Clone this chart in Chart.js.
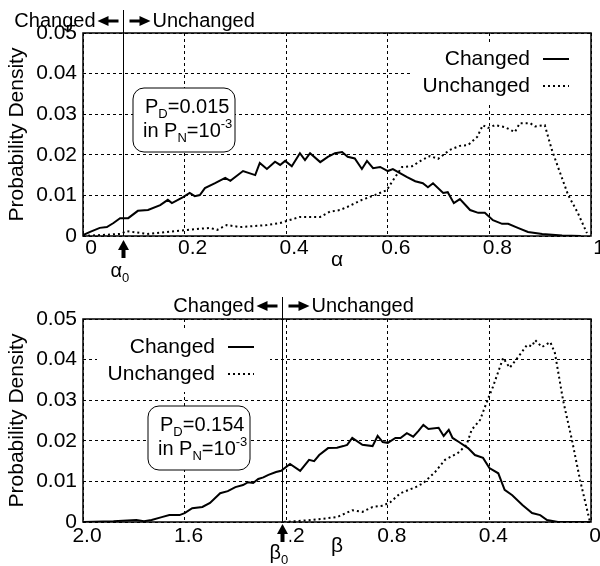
<!DOCTYPE html>
<html>
<head>
<meta charset="utf-8">
<script src="https://cdn.jsdelivr.net/npm/chart.js@4"></script>
<style>
body { margin: 0; background: #fff; width: 600px; height: 566px; position: relative; overflow: hidden; }
canvas { position: absolute; left: 0; }
#top { top: 0; }
#bot { top: 283px; }
</style>
</head>
<body>
<canvas id="top" width="600" height="283"></canvas>
<canvas id="bot" width="600" height="283"></canvas>
<script>
const FONT = '"Liberation Sans", Arial, Helvetica, sans-serif'

// top panel: alpha
const alphaChanged = [0, 0.014, 0.033, 0.047, 0.06, 0.073, 0.089, 0.108, 0.128, 0.152, 0.167, 0.175, 0.197, 0.21, 0.22, 0.23, 0.24, 0.26, 0.28, 0.29, 0.315, 0.339, 0.348, 0.362, 0.378, 0.388, 0.398, 0.411, 0.427, 0.437, 0.447, 0.467, 0.482, 0.496, 0.51, 0.521, 0.535, 0.549, 0.559, 0.571, 0.585, 0.6, 0.61, 0.624, 0.638, 0.654, 0.669, 0.679, 0.689, 0.709, 0.718, 0.73, 0.742, 0.762, 0.778, 0.791, 0.807, 0.825, 0.837, 0.856, 0.876, 0.904, 0.943, 0.98]
const densChangedA = [0.0002, 0.001, 0.002, 0.0022, 0.0032, 0.0044, 0.0044, 0.0062, 0.0064, 0.0076, 0.0089, 0.0081, 0.0096, 0.0106, 0.0098, 0.0101, 0.0118, 0.013, 0.0143, 0.0136, 0.016, 0.015, 0.018, 0.0165, 0.0183, 0.0175, 0.0185, 0.0172, 0.0204, 0.0187, 0.0204, 0.0182, 0.0195, 0.0204, 0.0207, 0.0195, 0.0191, 0.0165, 0.0185, 0.0167, 0.017, 0.016, 0.0165, 0.0155, 0.0145, 0.0135, 0.013, 0.012, 0.013, 0.0106, 0.0108, 0.0081, 0.0091, 0.0064, 0.0057, 0.0057, 0.0039, 0.003, 0.003, 0.002, 0.001, 0.0005, 0.0001, 0]
const alphaUnchanged = [0, 0.073, 0.087, 0.126, 0.165, 0.205, 0.25, 0.264, 0.283, 0.309, 0.362, 0.388, 0.427, 0.467, 0.486, 0.506, 0.521, 0.549, 0.575, 0.598, 0.608, 0.628, 0.648, 0.667, 0.683, 0.699, 0.722, 0.742, 0.758, 0.776, 0.787, 0.797, 0.811, 0.831, 0.85, 0.86, 0.88, 0.89, 0.909, 0.923, 0.935, 0.955, 0.974, 0.992]
const densUnchangedA = [0, 0.0005, 0.0012, 0.0005, 0.001, 0.0015, 0.002, 0.0015, 0.0027, 0.0022, 0.0027, 0.0032, 0.0047, 0.0047, 0.006, 0.0064, 0.0072, 0.0089, 0.0101, 0.0113, 0.0133, 0.017, 0.0172, 0.0187, 0.0197, 0.019, 0.0212, 0.0222, 0.0224, 0.0244, 0.0273, 0.0266, 0.0273, 0.0268, 0.0256, 0.0278, 0.0278, 0.027, 0.0273, 0.0212, 0.017, 0.0101, 0.0057, 0.0007]

// bottom panel: beta
const betaChanged = [2.0, 1.88, 1.79, 1.76, 1.73, 1.69, 1.66, 1.62, 1.6, 1.57, 1.53, 1.5, 1.46, 1.43, 1.4, 1.37, 1.35, 1.33, 1.31, 1.29, 1.27, 1.24, 1.22, 1.185, 1.145, 1.11, 1.09, 1.07, 1.035, 1.0, 0.975, 0.96, 0.94, 0.9, 0.86, 0.84, 0.82, 0.8, 0.77, 0.75, 0.725, 0.7, 0.68, 0.66, 0.64, 0.6, 0.58, 0.56, 0.545, 0.52, 0.484, 0.457, 0.425, 0.4, 0.365, 0.34, 0.31, 0.27, 0.232, 0.2, 0.173, 0.13, 0]
const densChangedB = [0, 0.0002, 0.0005, 0.0002, 0.0005, 0.0012, 0.0017, 0.0017, 0.0022, 0.0034, 0.0037, 0.0047, 0.0071, 0.0076, 0.0086, 0.0091, 0.0098, 0.0096, 0.0106, 0.011, 0.0116, 0.0123, 0.0126, 0.0143, 0.0126, 0.0153, 0.015, 0.0165, 0.0182, 0.0183, 0.0187, 0.019, 0.0207, 0.019, 0.0187, 0.0212, 0.0197, 0.0195, 0.0207, 0.0207, 0.0219, 0.021, 0.0224, 0.0239, 0.0229, 0.0232, 0.0212, 0.0227, 0.0207, 0.0197, 0.0182, 0.0165, 0.0158, 0.0133, 0.012, 0.0079, 0.0066, 0.0042, 0.0022, 0.0017, 0.0005, 0, 0]
const betaUnchanged = [1.21, 1.1, 1.0, 0.94, 0.9, 0.86, 0.82, 0.79, 0.75, 0.69, 0.66, 0.614, 0.575, 0.524, 0.49, 0.47, 0.437, 0.41, 0.386, 0.346, 0.32, 0.287, 0.252, 0.232, 0.22, 0.193, 0.16, 0.142, 0.11, 0.075, 0.043, 0.004]
const densUnchangedB = [0, 0.0005, 0.0012, 0.0029, 0.0025, 0.0037, 0.004, 0.0049, 0.0071, 0.0086, 0.0096, 0.0123, 0.0153, 0.017, 0.019, 0.0227, 0.0251, 0.0296, 0.0333, 0.0404, 0.038, 0.0406, 0.0436, 0.0433, 0.0448, 0.0431, 0.0443, 0.0416, 0.03, 0.0202, 0.0103, 0]

const alpha0 = 0.079
const beta0 = 1.217
const yTicks = [0, 0.01, 0.02, 0.03, 0.04, 0.05]

const pairs = (xs, ys) => xs.map((v, i) => ({ x: v, y: ys[i] }))

function arrowLeft(ctx, tip, y) {
    ctx.beginPath()
    ctx.moveTo(tip, y)
    ctx.lineTo(tip + 11, y - 5)
    ctx.lineTo(tip + 11, y + 5)
    ctx.closePath()
    ctx.fill()
    ctx.fillRect(tip + 10, y - 1.5, 11, 3)
}
function arrowRight(ctx, start, y) {
    ctx.fillRect(start, y - 1.5, 11, 3)
    ctx.beginPath()
    ctx.moveTo(start + 21, y)
    ctx.lineTo(start + 10, y - 5)
    ctx.lineTo(start + 10, y + 5)
    ctx.closePath()
    ctx.fill()
}
function arrowUp(ctx, x, tip, len) {
    ctx.beginPath()
    ctx.moveTo(x, tip)
    ctx.lineTo(x - 5.5, tip + 10)
    ctx.lineTo(x + 5.5, tip + 10)
    ctx.closePath()
    ctx.fill()
    ctx.fillRect(x - 2, tip + 9, 4, len - 9)
}
function rich(ctx, x, y, parts) {
    ctx.textAlign = 'left'
    for (const [t, m] of parts) {
        ctx.font = (m ? 13 : 20) + 'px ' + FONT
        const dy = m === 'sub' ? 5 : m === 'sup' ? -9 : 0
        ctx.fillText(t, x, y + dy)
        x += ctx.measureText(t).width
    }
}
function roundBox(ctx, x, y, w, h, r) {
    ctx.beginPath()
    ctx.roundRect(x, y, w, h, r)
    ctx.fillStyle = '#fff'
    ctx.fill()
    ctx.strokeStyle = '#000'
    ctx.lineWidth = 1
    ctx.stroke()
}

const decor = {
    id: 'decor',
    afterDatasetsDraw(chart, args, o) {
        const { ctx, chartArea: a, scales: { x } } = chart
        ctx.save()
        ctx.fillStyle = '#000'
        ctx.strokeStyle = '#000'

        // legend
        const L = o.legend
        ctx.fillStyle = '#fff'
        ctx.fillRect(L.x0, L.y0, L.x1 - L.x0, L.y1 - L.y0)
        ctx.fillStyle = '#000'
        ctx.font = '21px ' + FONT
        ctx.textAlign = 'right'
        ctx.fillText('Changed', L.tx, L.y)
        ctx.fillText('Unchanged', L.tx, L.y + 27)
        ctx.lineWidth = 2
        ctx.beginPath()
        ctx.moveTo(L.tx + 13, L.y - 6)
        ctx.lineTo(L.tx + 39, L.y - 6)
        ctx.stroke()
        ctx.setLineDash([2, 3])
        ctx.beginPath()
        ctx.moveTo(L.tx + 13, L.y + 21)
        ctx.lineTo(L.tx + 39, L.y + 21)
        ctx.stroke()
        ctx.setLineDash([])

        // detection box
        const B = o.box
        roundBox(ctx, B.x, B.y, 102, 64, 11)
        ctx.fillStyle = '#000'
        rich(ctx, B.x + 12, B.y + 25, [['P'], ['D', 'sub'], ['=' + o.pd]])
        rich(ctx, B.x + 10, B.y + 49, [['in P'], ['N', 'sub'], ['=10'], ['-3', 'sup']])

        // frame
        ctx.lineWidth = 1.5
        ctx.strokeRect(a.left, a.top, a.right - a.left, a.bottom - a.top)

        // threshold line
        const tx = Math.round(x.getPixelForValue(o.thr)) + 0.5
        ctx.lineWidth = 1
        ctx.beginPath()
        ctx.moveTo(tx, o.lineTop)
        ctx.lineTo(tx, a.bottom)
        ctx.stroke()

        // header
        ctx.font = '20px ' + FONT
        ctx.textAlign = 'right'
        ctx.fillText('Changed', tx - 28, o.headY)
        arrowLeft(ctx, tx - 26, o.headY - 6)
        arrowRight(ctx, tx + 6, o.headY - 6)
        ctx.textAlign = 'left'
        ctx.fillText('Unchanged', tx + 29, o.headY)

        // threshold marker
        ctx.fillStyle = '#fff'
        ctx.fillRect(tx - 7, a.bottom + 2, 14, 20)
        ctx.fillStyle = '#000'
        arrowUp(ctx, tx, a.bottom + o.arrowTip, 18)
        rich(ctx, tx - 13, a.bottom + o.symY, [[o.sym], ['0', 'sub']])
        ctx.restore()
    }
}

function makeChart(id, cfg) {
    return new Chart(document.getElementById(id), {
        type: 'line',
        data: {
            datasets: [{
                label: 'Changed',
                data: cfg.changed,
                borderColor: '#000',
                borderWidth: 2,
                pointRadius: 0,
                tension: 0
            }, {
                label: 'Unchanged',
                data: cfg.unchanged,
                borderColor: '#000',
                borderWidth: 2,
                borderDash: [2, 3],
                pointRadius: 0,
                tension: 0
            }]
        },
        options: {
            responsive: false,
            animation: false,
            layout: { padding: { left: 0, right: 9, top: cfg.top, bottom: 0 } },
            plugins: {
                legend: { display: false },
                tooltip: { enabled: false },
                decor: cfg.decor
            },
            scales: {
                x: {
                    type: 'linear',
                    min: 0,
                    max: cfg.max,
                    reverse: cfg.reverse,
                    afterBuildTicks: s => { s.ticks = cfg.xTicks.map(v => ({ value: v })) },
                    afterFit: s => { s.height = cfg.xHeight; s.paddingLeft = 0; s.paddingRight = 0 },
                    ticks: {
                        autoSkip: false,
                        maxRotation: 0,
                        padding: cfg.xPad,
                        labelOffset: cfg.labelOffset,
                        color: '#000',
                        font: { size: 21, family: FONT },
                        callback: cfg.fmt
                    },
                    grid: { color: '#000', lineWidth: 1, drawTicks: false },
                    border: { display: false, dash: [3, 3] },
                    title: {
                        display: true,
                        text: cfg.sym,
                        color: '#000',
                        font: { size: 21, family: FONT },
                        padding: { top: 0, bottom: cfg.titlePad }
                    }
                },
                y: {
                    min: 0,
                    max: 0.05,
                    afterBuildTicks: s => { s.ticks = yTicks.map(v => ({ value: v })) },
                    afterFit: s => { s.width = 83; s.paddingTop = 0; s.paddingBottom = 0 },
                    ticks: {
                        padding: 6,
                        color: '#000',
                        font: { size: 21, family: FONT },
                        callback: v => v === 0 ? '0' : v.toFixed(2)
                    },
                    grid: { color: '#000', lineWidth: 1, drawTicks: false },
                    border: { display: false, dash: [3, 3] },
                    title: {
                        display: true,
                        text: 'Probability Density',
                        color: '#000',
                        font: { size: 21, family: FONT },
                        padding: { top: 5, bottom: 0 }
                    }
                }
            }
        },
        plugins: [decor]
    })
}

makeChart('top', {
    changed: pairs(alphaChanged, densChangedA),
    unchanged: pairs(alphaUnchanged, densUnchangedA),
    max: 1,
    reverse: false,
    xTicks: [0, 0.2, 0.4, 0.6, 0.8, 1],
    fmt: v => v === 0 ? '0' : (v === 1 ? '1' : v.toFixed(1)),
    top: 33,
    xHeight: 47,
    xPad: 0,
    labelOffset: 8,
    titlePad: 10,
    sym: 'α',
    decor: {
        thr: alpha0, pd: '0.015', sym: 'α',
        lineTop: 10, headY: 27, arrowTip: 4, symY: 41,
        legend: { x0: 410, y0: 44, x1: 590, y1: 104, tx: 530, y: 65 },
        box: { x: 133, y: 88 }
    }
})

makeChart('bot', {
    changed: pairs(betaChanged, densChangedB),
    unchanged: pairs(betaUnchanged, densUnchangedB),
    max: 2,
    reverse: true,
    xTicks: [0, 0.4, 0.8, 1.2, 1.6, 2.0],
    fmt: v => v === 0 ? '0' : v.toFixed(1),
    top: 36,
    xHeight: 44,
    xPad: 2,
    labelOffset: 4,
    titlePad: 7,
    sym: 'β',
    decor: {
        thr: beta0, pd: '0.154', sym: 'β',
        lineTop: 14, headY: 29, arrowTip: 2, symY: 37,
        legend: { x0: 97, y0: 47, x1: 270, y1: 109, tx: 215, y: 70 },
        box: { x: 148, y: 123 }
    }
})
</script>
</body>
</html>
